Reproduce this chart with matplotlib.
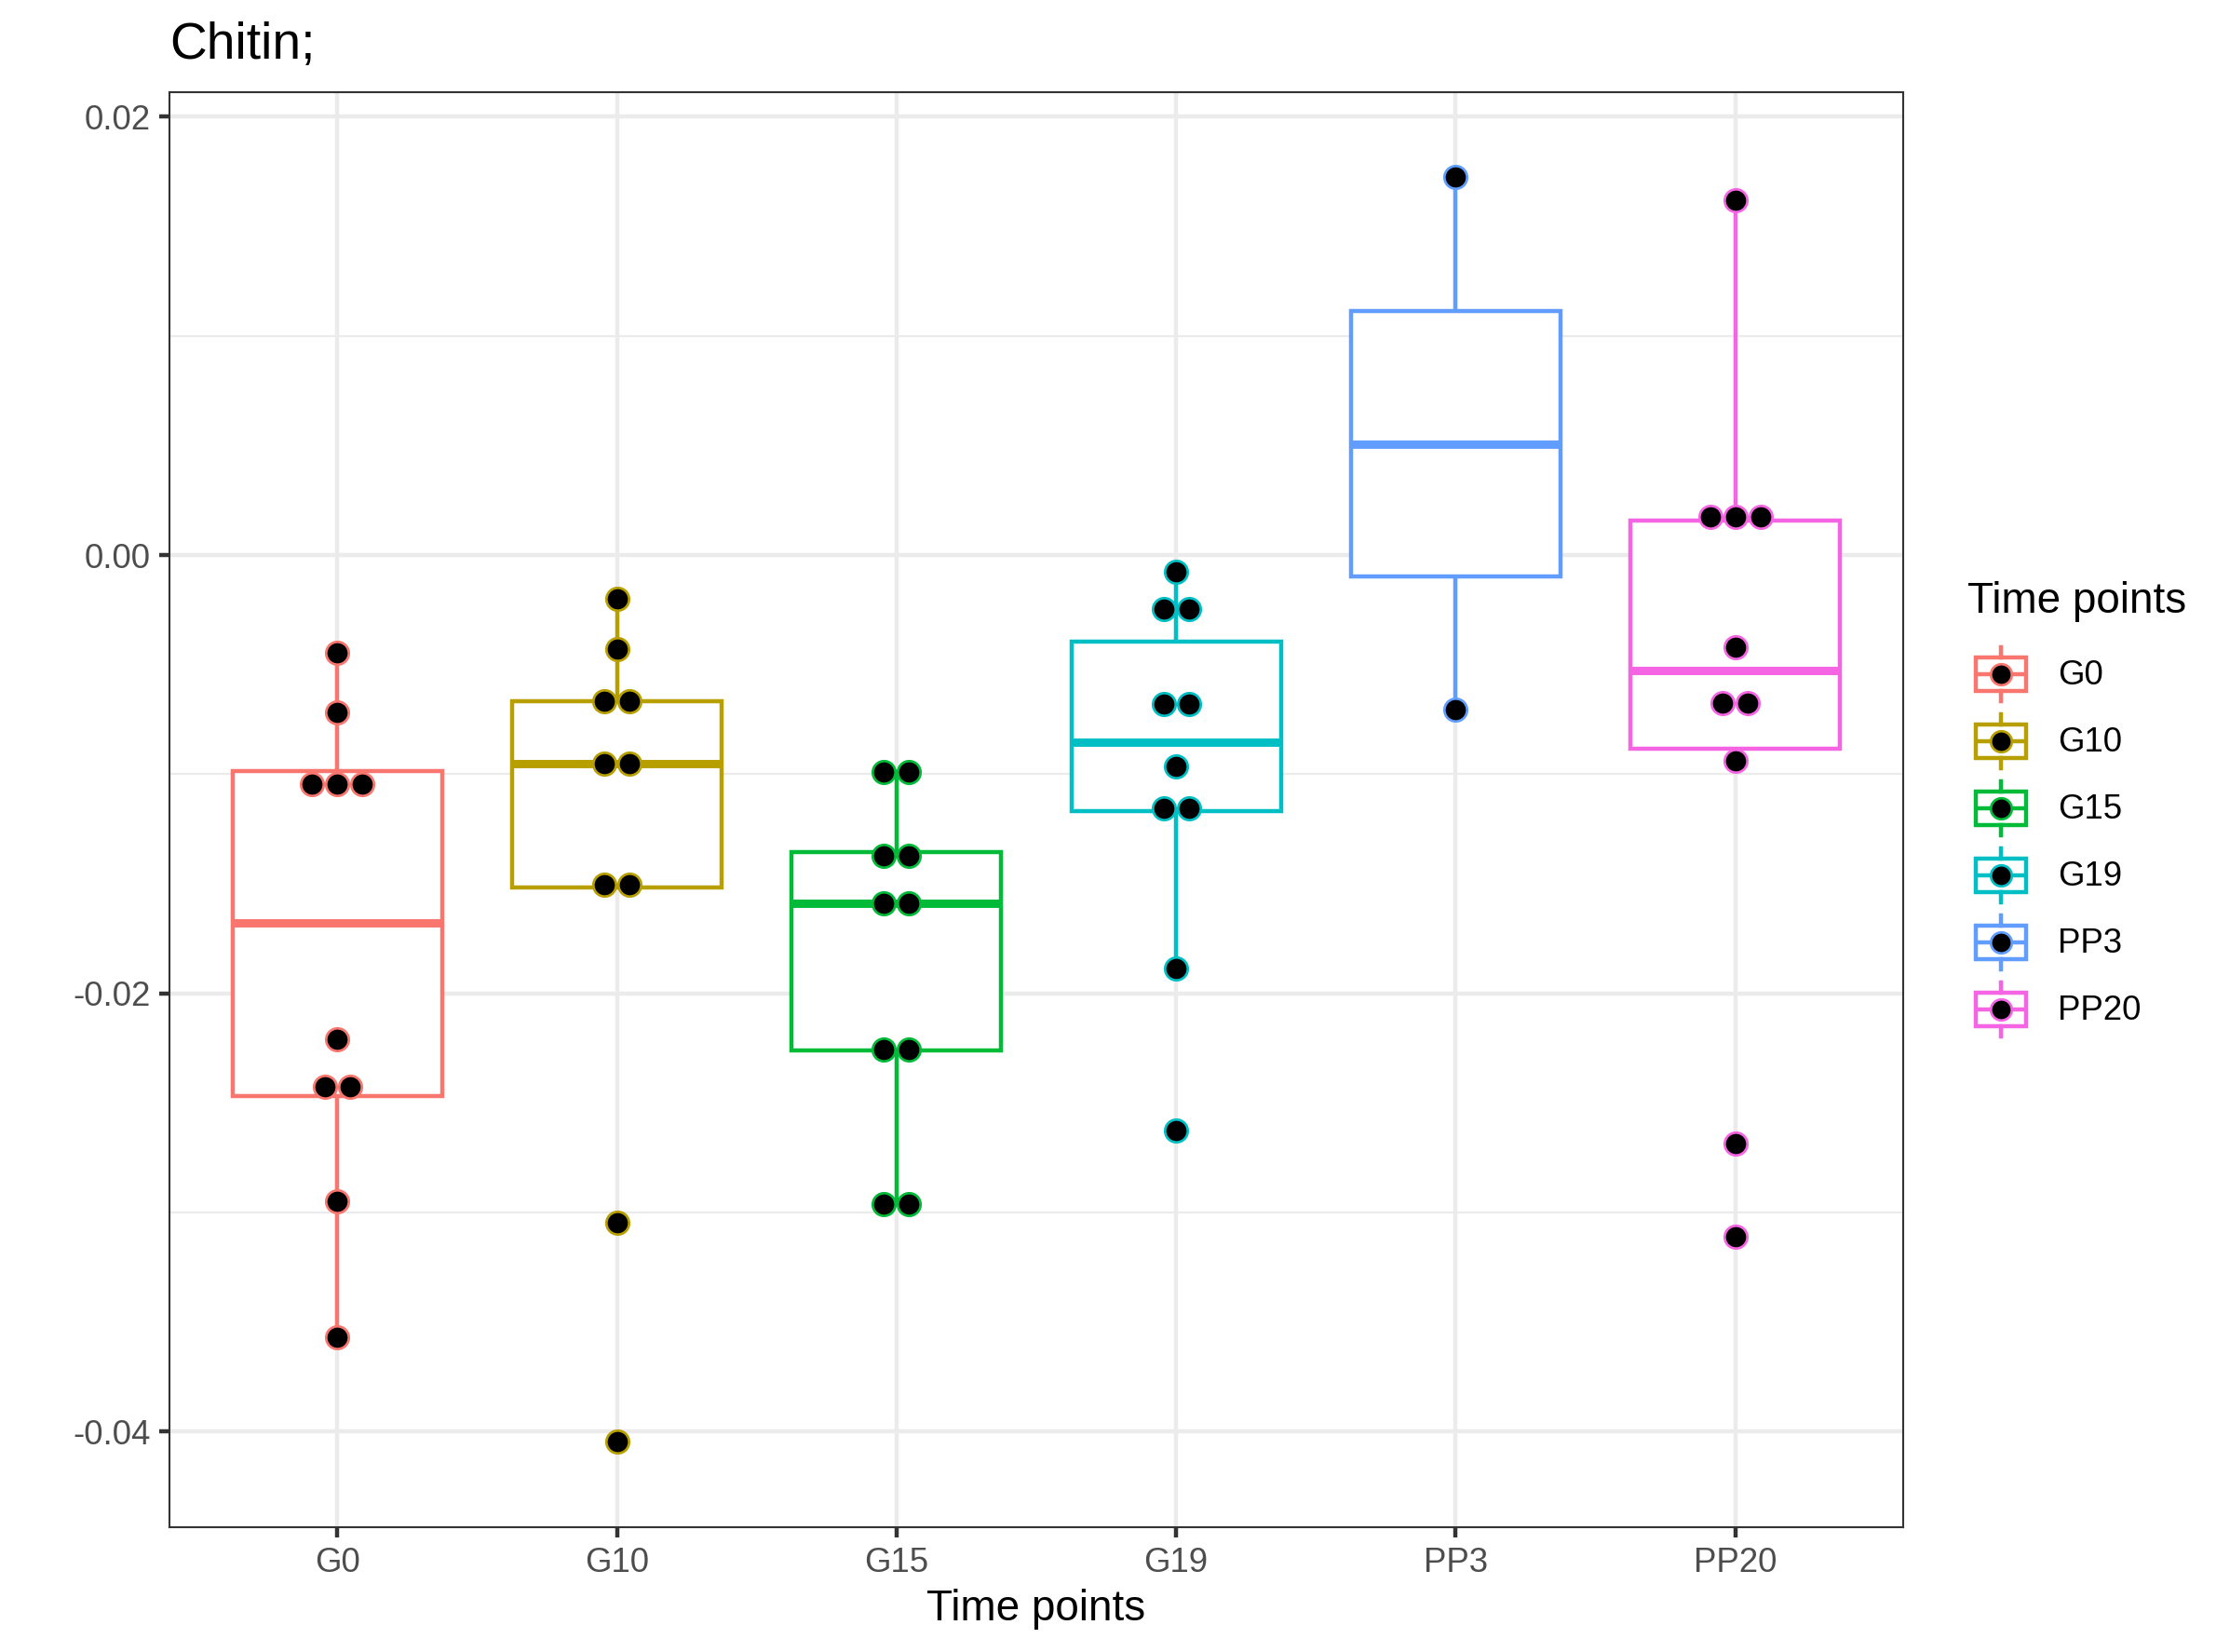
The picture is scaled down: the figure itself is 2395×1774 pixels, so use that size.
import matplotlib
matplotlib.use("Agg")
import matplotlib.pyplot as plt
from matplotlib.legend_handler import HandlerBase
from matplotlib.lines import Line2D
from matplotlib.patches import Rectangle, Patch
from matplotlib.ticker import FixedLocator, FixedFormatter

plt.rcParams['font.family'] = ['Liberation Sans', 'DejaVu Sans']

# ---------------- data ----------------
categories = ["G0", "G10", "G15", "G19", "PP3", "PP20"]
colors = ["#F8766D", "#B79F00", "#00BA38", "#00BFC4", "#619CFF", "#F564E3"]

g0_points = [-0.00447, -0.0072, -0.01044, -0.01044, -0.01044,
             -0.0221, -0.02425, -0.02425, -0.0295, -0.0357]
g10_points = [-0.00201, -0.00428, -0.00668, -0.00668, -0.00953,
              -0.00953, -0.01504, -0.01504, -0.03047, -0.04045]
g15_points = [-0.00992, -0.00992, -0.01374, -0.01374, -0.01588,
              -0.01588, -0.02256, -0.02256, -0.02963, -0.02963]
g19_points = [-0.00078, -0.00246, -0.00246, -0.00681, -0.00681,
              -0.00966, -0.01154, -0.01154, -0.01886, -0.02626]
pp3_points = [0.01724, -0.00707]
pp20_points = [0.01621, 0.00175, 0.00175, 0.00175, -0.00421,
               -0.00674, -0.00674, -0.0094, -0.02684, -0.03112]
points = [g0_points, g10_points, g15_points, g19_points, pp3_points, pp20_points]

box_q1 = [-0.0247, -0.01517, -0.02262, -0.01167, -0.00097, -0.00882]
box_med = [-0.01679, -0.00953, -0.01588, -0.00856, 0.00506, -0.00525]
box_q3 = [-0.00985, -0.00668, -0.01355, -0.00395, 0.01115, 0.00156]
whisk_lo = [-0.0357, -0.01517, -0.02963, -0.01886, -0.00707, -0.0094]
whisk_hi = [-0.00447, -0.00201, -0.00992, -0.00078, 0.01724, 0.01621]

y_ticks = [-0.04, -0.02, 0.00, 0.02]
y_tick_labels = ["-0.04", "-0.02", "0.00", "0.02"]
y_minor = [-0.03, -0.01, 0.01]

# ---------------- figure ----------------
W, H, DPI = 2395, 1774, 300
fig = plt.figure(figsize=(W / DPI, H / DPI), dpi=DPI)
fig.patch.set_facecolor("white")
ax = fig.add_axes([182 / W, 1 - 1640 / H, (2044 - 182) / W, (1640 - 98.5) / H])

LW = 1.07
positions = list(range(1, len(categories) + 1))
stats = []
for i, cat in enumerate(categories):
    stats.append(dict(label=cat, q1=box_q1[i], med=box_med[i], q3=box_q3[i],
                      whislo=whisk_lo[i], whishi=whisk_hi[i], fliers=[]))
bp = ax.bxp(stats, positions=positions, widths=0.75, patch_artist=True,
            showfliers=False, showcaps=False, manage_ticks=False)
for i, c in enumerate(colors):
    box = bp['boxes'][i]
    box.set_facecolor("white")
    box.set_edgecolor(c)
    box.set_linewidth(LW)
    box.set_zorder(2)
    med = bp['medians'][i]
    med.set_color(c)
    med.set_linewidth(2 * LW)
    med.set_solid_capstyle('butt')
    med.set_zorder(2.1)
    for wk in bp['whiskers'][2 * i:2 * i + 2]:
        wk.set_color(c)
        wk.set_linewidth(LW)
        wk.set_zorder(1.9)

# dot-plot style stacking
dot_w = 0.0897
for i, (vals, c) in enumerate(zip(points, colors)):
    uniq = []
    for v in vals:
        if v not in uniq:
            uniq.append(v)
    xs, ys = [], []
    for v in uniq:
        n = vals.count(v)
        for k in range(n):
            xs.append(positions[i] + (k - (n - 1) / 2) * dot_w)
            ys.append(v)
    ax.plot(xs, ys, linestyle='none', marker='o', ms=5.85, mfc='black',
            mec=c, mew=0.65, zorder=3)

ax.set_xlim(0.4, 6.6)
ax.set_ylim(-0.04436, 0.02114)
ax.set_xticks(positions)
ax.set_xticklabels(categories)
ax.yaxis.set_major_locator(FixedLocator(y_ticks))
ax.yaxis.set_major_formatter(FixedFormatter(y_tick_labels))
ax.yaxis.set_minor_locator(FixedLocator(y_minor))

ax.set_axisbelow(True)
ax.grid(True, which='major', color='#EBEBEB', linewidth=LW)
ax.grid(True, which='minor', axis='y', color='#EBEBEB', linewidth=LW / 2)
ax.tick_params(axis='both', which='major', length=2.75, width=LW, color='#333333',
               labelsize=8.8, labelcolor='#4D4D4D', pad=2.2)
ax.tick_params(axis='y', which='minor', length=0)
for sp in ax.spines.values():
    sp.set_color('#333333')
    sp.set_linewidth(0.5)
    sp.set_zorder(4)

ax.set_xlabel("Time points", fontsize=11, color='black', labelpad=2.5)
ax.set_title("Chitin;", loc='left', fontsize=13.2, color='black', pad=8.5)


# ---------------- legend ----------------
class BoxKeyHandler(HandlerBase):
    def create_artists(self, legend, orig_handle, xdescent, ydescent,
                       width, height, fontsize, trans):
        c = orig_handle.get_edgecolor()
        x0, y0 = -xdescent, -ydescent
        w, h = width, height
        rect = Rectangle((x0 + 0.125 * w, y0 + 0.25 * h), 0.75 * w, 0.5 * h,
                         facecolor='white', edgecolor=c, lw=LW, transform=trans)
        wl1 = Line2D([x0 + 0.5 * w] * 2, [y0 + 0.1 * h, y0 + 0.25 * h],
                     color=c, lw=LW, transform=trans)
        wl2 = Line2D([x0 + 0.5 * w] * 2, [y0 + 0.75 * h, y0 + 0.9 * h],
                     color=c, lw=LW, transform=trans)
        med = Line2D([x0 + 0.125 * w, x0 + 0.875 * w], [y0 + 0.5 * h] * 2,
                     color=c, lw=LW, solid_capstyle='butt', transform=trans)
        dot = Line2D([x0 + 0.5 * w], [y0 + 0.5 * h], linestyle='none', marker='o',
                     ms=5.4, mfc='black', mec=c, mew=0.65, transform=trans)
        return [rect, wl1, wl2, med, dot]


handles = [Patch(facecolor='white', edgecolor=c) for c in colors]
leg = fig.legend(handles, categories, title="Time points",
                 handler_map={Patch: BoxKeyHandler()},
                 loc='upper left', bbox_to_anchor=(2113 / W, 1 - 624 / H),
                 frameon=False, fontsize=8.8, title_fontsize=11,
                 handlelength=1.9636, handleheight=2.6438, labelspacing=0,
                 handletextpad=0.68, borderpad=0, borderaxespad=0,
                 alignment='left')
leg._legend_box.sep = 4.8

fig.savefig("out.png", dpi=DPI, facecolor="white")
